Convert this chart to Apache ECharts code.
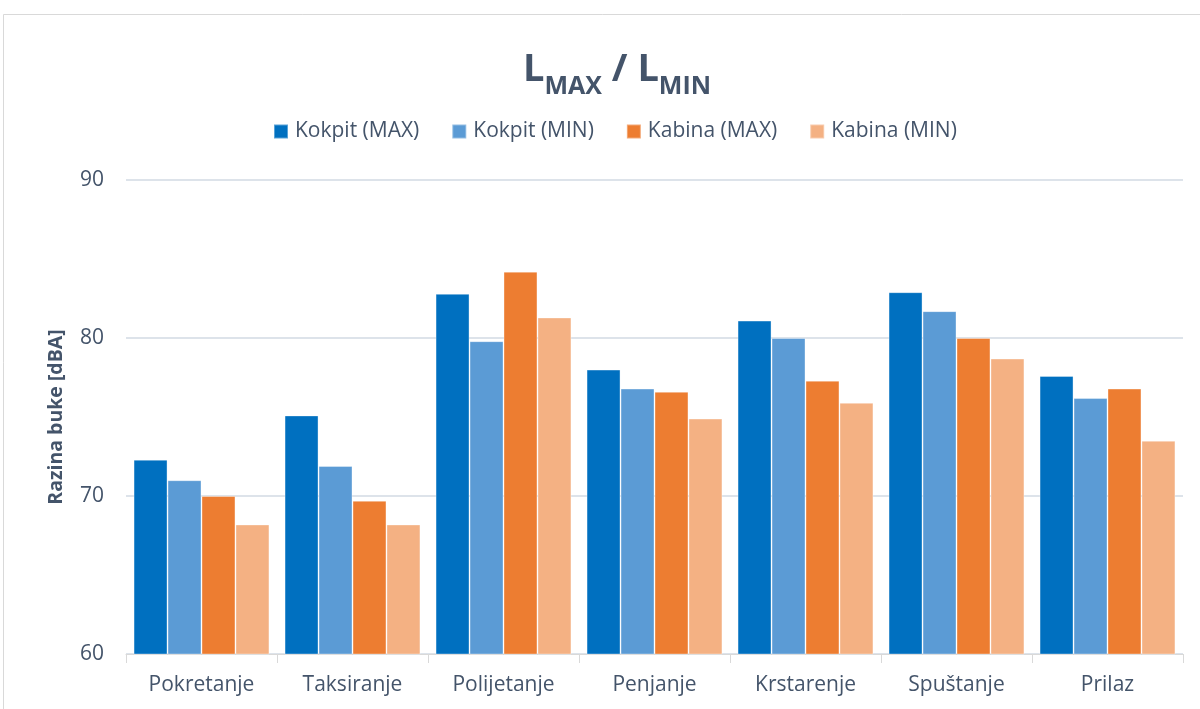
<!DOCTYPE html>
<html lang="hr" style="height: 100%">
<head>
    <meta charset="utf-8">
</head>
<body style="height: 100%; margin: 0">
<div id="main" style="width: 1200px; height: 709px"></div>
<script src="https://cdn.jsdelivr.net/npm/echarts@6/dist/echarts.min.js"></script>
<script type="text/javascript">
    // faze leta
    var categories = ['Pokretanje', 'Taksiranje', 'Polijetanje', 'Penjanje', 'Krstarenje', 'Spuštanje', 'Prilaz'];
    var seriesNames = ['Kokpit (MAX)', 'Kokpit (MIN)', 'Kabina (MAX)', 'Kabina (MIN)'];
    var kokpitMax = [72.3, 75.1, 82.8, 78.0, 81.1, 82.9, 77.6];
    var kokpitMin = [71.0, 71.9, 79.8, 76.8, 80.0, 81.7, 76.2];
    var kabinaMax = [70.0, 69.7, 84.2, 76.6, 77.3, 80.0, 76.8];
    var kabinaMin = [68.2, 68.2, 81.3, 74.9, 75.9, 78.7, 73.5];
    var colors = ['#0070C0', '#5B9BD5', '#ED7D31', '#F4B183'];

    var textColor = '#44546A';
    var font = '"Open Sans", sans-serif';

    var chart = echarts.init(document.getElementById('main'));

    var allData = [kokpitMax, kokpitMin, kabinaMax, kabinaMin];
    var series = [];
    for (var i = 0; i < allData.length; i++) {
        series.push({
            name: seriesNames[i],
            type: 'bar',
            data: allData[i],
            barGap: '0%',
            barCategoryGap: '10%',
            itemStyle: {
                color: colors[i],
                borderColor: 'rgba(255,255,255,0.35)',
                borderWidth: 1
            }
        });
    }

    chart.setOption({
        backgroundColor: '#ffffff',
        color: colors,
        animation: false,
        graphic: [{
            type: 'rect',
            shape: {x: 3.5, y: 14.5, width: 1300, height: 800},
            style: {fill: 'none', stroke: '#D9D9D9', lineWidth: 1},
            silent: true
        }],
        title: {
            text: '{l|L}{s|MAX}{l| / L}{s|MIN}',
            left: 518,
            top: 38,
            textStyle: {
                rich: {
                    l: {fontFamily: font, fontWeight: 'bold', fontSize: 38, color: textColor, lineHeight: 46, verticalAlign: 'bottom'},
                    s: {fontFamily: font, fontWeight: 'bold', fontSize: 25, color: textColor, lineHeight: 34, verticalAlign: 'bottom', padding: [0, 0, -10, 0]}
                }
            }
        },
        legend: {
            data: seriesNames,
            top: 116,
            left: 268,
            itemWidth: 14,
            itemHeight: 14,
            itemGap: 32,
            icon: 'rect',
            textStyle: {fontFamily: font, fontSize: 21, color: textColor, padding: [0, 0, 0, 2]}
        },
        grid: {
            left: 126,
            right: 17,
            top: 180,
            bottom: 55
        },
        xAxis: {
            type: 'category',
            data: categories,
            axisLine: {lineStyle: {color: '#D9D9D9', width: 1}},
            axisTick: {show: true, length: 9, lineStyle: {color: '#D9D9D9'}},
            axisLabel: {fontFamily: font, fontSize: 21, color: textColor, margin: 21}
        },
        yAxis: {
            type: 'value',
            min: 60,
            max: 90,
            interval: 10,
            name: 'Razina buke [dBA]',
            nameLocation: 'middle',
            nameGap: 60,
            nameTextStyle: {fontFamily: font, fontWeight: 'bold', fontSize: 19.5, color: textColor},
            axisLine: {show: false},
            axisTick: {show: false},
            axisLabel: {fontFamily: font, fontSize: 21, color: textColor, margin: 22},
            splitLine: {lineStyle: {color: '#DDE3EA', width: 2}}
        },
        series: series
    });
</script>
</body>
</html>
